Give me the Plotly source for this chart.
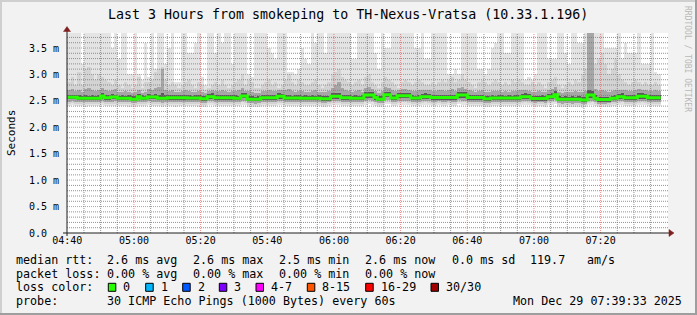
import plotly.graph_objects as go
import pandas as pd
import numpy as np

# ---------------- data (ms), one value per minute from 04:40 ----------------
start_time = "2025-12-29 04:40:00"

median_ms = [
    2.57, 2.57, 2.57, 2.55, 2.55, 2.55, 2.55, 2.55, 2.55, 2.55,
    2.59, 2.56, 2.56, 2.575, 2.575, 2.55, 2.55, 2.55, 2.55, 2.53,
    2.53, 2.58, 2.55, 2.55, 2.575, 2.575, 2.575, 2.55, 2.55, 2.55,
    2.56, 2.56, 2.56, 2.56, 2.56, 2.56, 2.555, 2.555, 2.555, 2.555,
    2.54, 2.54, 2.58, 2.58, 2.56, 2.56, 2.56, 2.56, 2.56, 2.56,
    2.55, 2.55, 2.59, 2.59, 2.53, 2.53, 2.53, 2.53, 2.56, 2.56,
    2.56, 2.56, 2.56, 2.585, 2.585, 2.555, 2.555, 2.555, 2.555, 2.555,
    2.55, 2.55, 2.55, 2.55, 2.55, 2.55, 2.54, 2.54, 2.54, 2.585,
    2.585, 2.585, 2.56, 2.56, 2.56, 2.55, 2.55, 2.55, 2.55, 2.61,
    2.61, 2.61, 2.565, 2.53, 2.53, 2.615, 2.615, 2.555, 2.555, 2.595,
    2.595, 2.595, 2.595, 2.555, 2.555, 2.555, 2.58, 2.58, 2.58, 2.565,
    2.565, 2.565, 2.565, 2.565, 2.565, 2.565, 2.565, 2.61, 2.61, 2.61,
    2.565, 2.565, 2.565, 2.565, 2.565, 2.54, 2.54, 2.555, 2.555, 2.555,
    2.555, 2.555, 2.555, 2.555, 2.555, 2.555, 2.58, 2.58, 2.58, 2.545,
    2.545, 2.545, 2.545, 2.545, 2.58, 2.58, 2.615, 2.53, 2.53, 2.53,
    2.53, 2.53, 2.53, 2.53, 2.515, 2.515, 2.61, 2.61, 2.55, 2.525,
    2.525, 2.525, 2.525, 2.55, 2.55, 2.58, 2.58, 2.56, 2.56, 2.56,
    2.56, 2.585, 2.585, 2.585, 2.56, 2.56, 2.56, 2.56,
]

max_ms = [
    3.8, 3.8, 3.8, 3.8, 3.2, 3.8, 3.8, 3.8, 3.8, 3.8,
    3.8, 3.8, 3.8, 3.5, 3.8, 3.3, 3.8, 3.8, 3.0, 3.0,
    3.8, 3.0, 2.9, 3.6, 2.95, 3.8, 3.1, 3.8, 3.8, 3.2,
    3.5, 3.8, 2.85, 2.85, 3.8, 3.8, 3.4, 3.4, 3.6, 3.8,
    2.95, 2.8, 3.8, 3.8, 3.4, 3.8, 3.6, 3.8, 3.8, 3.2,
    3.8, 3.8, 3.8, 3.8, 3.0, 2.95, 3.8, 3.8, 3.8, 3.8,
    3.5, 3.4, 3.3, 3.8, 3.8, 3.8, 3.05, 3.05, 3.0, 3.1,
    3.5, 3.3, 3.2, 3.8, 3.6, 3.8, 3.8, 3.4, 3.8, 3.8,
    3.8, 3.8, 3.8, 3.8, 3.8, 3.3, 3.3, 3.8, 3.8, 3.8,
    3.8, 3.8, 3.4, 3.1, 3.8, 3.5, 3.5, 3.8, 3.8, 3.8,
    3.8, 3.8, 3.8, 3.8, 3.5, 3.5, 3.8, 3.3, 3.3, 3.8,
    3.8, 3.8, 3.8, 3.8, 3.0, 3.0, 3.1, 3.0, 3.8, 3.8,
    3.8, 3.8, 3.8, 3.1, 3.1, 3.0, 3.1, 3.5, 3.6, 3.8,
    3.8, 3.4, 3.4, 3.8, 3.8, 3.8, 3.8, 2.9, 2.95, 2.9,
    3.0, 3.8, 3.8, 3.8, 3.3, 3.3, 3.3, 3.8, 3.8, 3.4,
    3.2, 3.8, 3.8, 3.6, 3.6, 3.8, 3.8, 3.8, 3.8, 3.8,
    3.8, 3.5, 3.5, 3.5, 3.5, 3.8, 3.3, 3.6, 3.4, 3.4,
    3.4, 3.8, 3.2, 3.2, 3.2, 3.8, 3.05, 3.0,
]

min_ms = [
    2.41, 2.42, 2.40, 2.40, 2.41, 2.39, 2.40, 2.41, 2.40, 2.40,
    2.42, 2.41, 2.40, 2.41, 2.41, 2.40, 2.41, 2.40, 2.39, 2.38,
    2.39, 2.41, 2.40, 2.41, 2.42, 2.40, 2.41, 2.40, 2.39, 2.40,
    2.41, 2.40, 2.39, 2.41, 2.40, 2.41, 2.40, 2.41, 2.40, 2.39,
    2.38, 2.39, 2.42, 2.42, 2.41, 2.40, 2.40, 2.41, 2.41, 2.40,
    2.40, 2.41, 2.43, 2.42, 2.39, 2.38, 2.38, 2.39, 2.41, 2.41,
    2.41, 2.40, 2.41, 2.42, 2.42, 2.41, 2.40, 2.41, 2.40, 2.41,
    2.40, 2.41, 2.40, 2.40, 2.41, 2.40, 2.39, 2.38, 2.40, 2.42,
    2.42, 2.42, 2.41, 2.41, 2.40, 2.40, 2.41, 2.40, 2.40, 2.43,
    2.44, 2.43, 2.41, 2.39, 2.39, 2.44, 2.44, 2.41, 2.40, 2.42,
    2.43, 2.43, 2.42, 2.41, 2.40, 2.41, 2.42, 2.43, 2.42, 2.41,
    2.41, 2.42, 2.41, 2.41, 2.42, 2.41, 2.41, 2.44, 2.43, 2.43,
    2.41, 2.41, 2.40, 2.41, 2.41, 2.39, 2.39, 2.40, 2.41, 2.40,
    2.40, 2.41, 2.40, 2.40, 2.41, 2.40, 2.42, 2.43, 2.42, 2.40,
    2.39, 2.40, 2.40, 2.39, 2.42, 2.43, 2.44, 2.39, 2.38, 2.39,
    2.39, 2.38, 2.39, 2.39, 2.37, 2.38, 2.42, 2.43, 2.40, 2.38,
    2.38, 2.38, 2.39, 2.40, 2.40, 2.42, 2.43, 2.41, 2.41, 2.41,
    2.41, 2.42, 2.43, 2.42, 2.41, 2.41, 2.41, 2.40,
]

# second-lightest smoke layer (2nd fastest .. 2nd slowest ping)
smoke2_hi = [
    2.85, 2.95, 2.80, 3.05, 2.80, 3.10, 3.15, 3.00, 2.90, 3.00,
    2.95, 2.90, 2.85, 2.80, 2.90, 2.80, 2.75, 2.85, 2.80, 2.75,
    2.80, 2.95, 2.75, 2.85, 2.85, 2.90, 3.05, 3.10, 3.15, 2.90,
    2.80, 2.85, 2.80, 2.75, 2.80, 2.85, 2.90, 2.80, 2.75, 2.85,
    2.80, 2.70, 2.75, 2.80, 2.85, 2.80, 2.90, 2.80, 2.75, 2.80,
    2.85, 2.90, 3.00, 2.80, 2.90, 2.85, 2.75, 2.75, 2.80, 2.85,
    2.90, 2.80, 2.85, 2.75, 2.80, 2.90, 3.00, 2.85, 2.80, 2.90,
    2.85, 2.80, 2.80, 2.85, 2.90, 2.80, 2.75, 2.80, 2.85, 3.00,
    3.05, 3.10, 2.95, 2.90, 2.85, 2.80, 2.85, 2.90, 2.80, 2.95,
    3.00, 2.85, 2.80, 2.75, 2.85, 2.95, 2.90, 2.85, 2.80, 2.75,
    2.85, 2.90, 2.85, 2.80, 2.85, 2.90, 2.85, 2.80, 2.80, 2.85,
    2.80, 2.85, 2.90, 2.85, 2.90, 2.95, 2.85, 2.90, 3.00, 2.90,
    2.85, 2.80, 2.75, 2.85, 2.90, 2.85, 2.80, 2.85, 2.90, 2.85,
    2.80, 2.85, 2.80, 2.90, 2.85, 2.90, 2.85, 2.80, 2.80, 2.85,
    2.80, 2.85, 2.80, 2.75, 2.85, 2.90, 2.95, 2.80, 2.75, 2.80,
    2.85, 2.80, 2.90, 2.85, 3.00, 3.10, 3.78, 3.78, 3.20, 3.30,
    3.40, 3.20, 3.00, 3.10, 3.30, 3.00, 2.90, 2.85, 2.80, 2.85,
    2.90, 2.85, 2.80, 2.85, 2.80, 2.80, 2.85, 2.80,
]
smoke2_lo = [
    2.45, 2.46, 2.45, 2.44, 2.45, 2.44, 2.45, 2.45, 2.44, 2.45,
    2.46, 2.45, 2.44, 2.45, 2.45, 2.44, 2.45, 2.44, 2.44, 2.43,
    2.43, 2.45, 2.44, 2.45, 2.46, 2.45, 2.45, 2.44, 2.43, 2.44,
    2.45, 2.44, 2.44, 2.45, 2.44, 2.45, 2.44, 2.45, 2.44, 2.44,
    2.43, 2.43, 2.46, 2.46, 2.45, 2.44, 2.44, 2.45, 2.45, 2.44,
    2.44, 2.45, 2.47, 2.46, 2.43, 2.43, 2.42, 2.43, 2.45, 2.45,
    2.45, 2.44, 2.45, 2.46, 2.46, 2.45, 2.44, 2.45, 2.44, 2.45,
    2.44, 2.45, 2.44, 2.44, 2.45, 2.44, 2.43, 2.43, 2.44, 2.46,
    2.46, 2.46, 2.45, 2.45, 2.44, 2.44, 2.45, 2.44, 2.44, 2.47,
    2.48, 2.47, 2.45, 2.43, 2.43, 2.48, 2.48, 2.45, 2.44, 2.46,
    2.47, 2.47, 2.46, 2.45, 2.44, 2.45, 2.46, 2.47, 2.46, 2.45,
    2.45, 2.46, 2.45, 2.45, 2.46, 2.45, 2.45, 2.48, 2.47, 2.47,
    2.45, 2.45, 2.44, 2.45, 2.45, 2.43, 2.43, 2.44, 2.45, 2.44,
    2.44, 2.45, 2.44, 2.44, 2.45, 2.44, 2.46, 2.47, 2.46, 2.44,
    2.43, 2.44, 2.44, 2.43, 2.46, 2.47, 2.48, 2.43, 2.42, 2.43,
    2.43, 2.42, 2.43, 2.43, 2.41, 2.42, 2.46, 2.47, 2.44, 2.42,
    2.42, 2.42, 2.43, 2.44, 2.44, 2.46, 2.47, 2.45, 2.45, 2.45,
    2.45, 2.46, 2.47, 2.46, 2.45, 2.45, 2.45, 2.44,
]

# middle smoke layer
smoke3_hi = [
    2.70, 2.72, 2.68, 2.70, 2.67, 2.72, 2.74, 2.70, 2.68, 2.71,
    2.74, 2.70, 2.68, 2.70, 2.72, 2.67, 2.66, 2.68, 2.67, 2.65,
    2.66, 2.70, 2.65, 2.67, 2.72, 2.70, 2.74, 2.76, 3.10, 2.70,
    2.68, 2.70, 2.67, 2.66, 2.68, 2.70, 2.69, 2.67, 2.66, 2.68,
    2.66, 2.64, 2.68, 2.70, 2.69, 2.68, 2.70, 2.68, 2.66, 2.68,
    2.69, 2.70, 2.74, 2.68, 2.68, 2.67, 2.65, 2.65, 2.68, 2.69,
    2.70, 2.68, 2.69, 2.70, 2.70, 2.70, 2.72, 2.68, 2.67, 2.69,
    2.68, 2.67, 2.67, 2.68, 2.70, 2.67, 2.66, 2.66, 2.68, 2.74,
    2.80, 2.85, 2.74, 2.70, 2.69, 2.67, 2.68, 2.70, 2.67, 2.74,
    2.76, 2.72, 2.68, 2.65, 2.68, 2.76, 2.74, 2.70, 2.68, 2.70,
    2.72, 2.72, 2.71, 2.68, 2.68, 2.70, 2.70, 2.71, 2.70, 2.69,
    2.68, 2.70, 2.71, 2.69, 2.70, 2.72, 2.69, 2.74, 2.76, 2.72,
    2.70, 2.68, 2.66, 2.69, 2.70, 2.67, 2.66, 2.68, 2.69, 2.68,
    2.67, 2.68, 2.67, 2.69, 2.68, 2.70, 2.70, 2.71, 2.69, 2.67,
    2.67, 2.68, 2.66, 2.66, 2.70, 2.72, 2.76, 2.66, 2.65, 2.66,
    2.67, 2.66, 2.68, 2.67, 2.66, 2.68, 3.78, 3.78, 2.72, 2.68,
    2.70, 2.68, 2.67, 2.69, 2.70, 2.70, 2.71, 2.70, 2.68, 2.69,
    2.70, 2.72, 2.71, 2.70, 2.68, 2.69, 2.70, 2.68,
]
smoke3_lo = [
    2.48, 2.49, 2.48, 2.47, 2.48, 2.47, 2.48, 2.48, 2.47, 2.48,
    2.49, 2.48, 2.47, 2.48, 2.49, 2.47, 2.48, 2.47, 2.48, 2.46,
    2.46, 2.48, 2.47, 2.48, 2.49, 2.48, 2.48, 2.47, 2.46, 2.47,
    2.48, 2.48, 2.47, 2.48, 2.47, 2.48, 2.47, 2.48, 2.48, 2.47,
    2.46, 2.46, 2.49, 2.49, 2.48, 2.48, 2.47, 2.48, 2.48, 2.47,
    2.47, 2.48, 2.50, 2.49, 2.46, 2.46, 2.45, 2.46, 2.48, 2.48,
    2.48, 2.47, 2.48, 2.49, 2.50, 2.48, 2.47, 2.48, 2.47, 2.48,
    2.47, 2.48, 2.47, 2.47, 2.48, 2.47, 2.46, 2.46, 2.47, 2.49,
    2.50, 2.49, 2.48, 2.48, 2.47, 2.47, 2.48, 2.47, 2.47, 2.50,
    2.51, 2.50, 2.48, 2.46, 2.46, 2.51, 2.51, 2.48, 2.47, 2.49,
    2.50, 2.50, 2.49, 2.48, 2.47, 2.48, 2.49, 2.50, 2.49, 2.48,
    2.48, 2.49, 2.48, 2.48, 2.49, 2.48, 2.48, 2.51, 2.50, 2.50,
    2.48, 2.48, 2.47, 2.48, 2.48, 2.46, 2.46, 2.47, 2.48, 2.47,
    2.47, 2.48, 2.47, 2.47, 2.48, 2.47, 2.49, 2.50, 2.49, 2.47,
    2.46, 2.47, 2.47, 2.46, 2.49, 2.50, 2.51, 2.46, 2.45, 2.46,
    2.46, 2.45, 2.46, 2.46, 2.44, 2.45, 2.49, 2.50, 2.47, 2.45,
    2.45, 2.45, 2.46, 2.47, 2.47, 2.49, 2.50, 2.48, 2.48, 2.48,
    2.48, 2.49, 2.50, 2.49, 2.48, 2.48, 2.48, 2.47,
]

# dark core of the smoke
smoke4_hi = [
    2.62, 2.62, 2.62, 2.61, 2.60, 2.61, 2.60, 2.61, 2.60, 2.61,
    2.64, 2.61, 2.62, 2.63, 2.62, 2.60, 2.61, 2.60, 2.61, 2.59,
    2.59, 2.63, 2.61, 2.60, 2.63, 2.62, 2.63, 2.61, 2.64, 2.61,
    2.61, 2.62, 2.61, 2.61, 2.62, 2.61, 2.61, 2.60, 2.61, 2.61,
    2.60, 2.60, 2.63, 2.64, 2.62, 2.61, 2.61, 2.62, 2.61, 2.61,
    2.61, 2.60, 2.64, 2.64, 2.59, 2.59, 2.58, 2.59, 2.62, 2.61,
    2.61, 2.62, 2.61, 2.64, 2.63, 2.61, 2.61, 2.60, 2.61, 2.61,
    2.60, 2.61, 2.60, 2.61, 2.60, 2.61, 2.60, 2.59, 2.60, 2.64,
    2.65, 2.64, 2.62, 2.61, 2.61, 2.60, 2.61, 2.60, 2.61, 2.66,
    2.67, 2.66, 2.62, 2.59, 2.59, 2.67, 2.66, 2.61, 2.61, 2.65,
    2.65, 2.64, 2.65, 2.61, 2.60, 2.61, 2.63, 2.64, 2.63, 2.62,
    2.61, 2.62, 2.62, 2.61, 2.62, 2.61, 2.62, 2.67, 2.66, 2.66,
    2.62, 2.61, 2.62, 2.62, 2.61, 2.59, 2.60, 2.61, 2.60, 2.61,
    2.61, 2.60, 2.61, 2.60, 2.61, 2.61, 2.63, 2.64, 2.63, 2.60,
    2.60, 2.60, 2.61, 2.60, 2.63, 2.64, 2.68, 2.59, 2.58, 2.59,
    2.58, 2.59, 2.58, 2.59, 2.57, 2.58, 2.70, 2.68, 2.61, 2.58,
    2.58, 2.58, 2.58, 2.60, 2.61, 2.63, 2.64, 2.62, 2.61, 2.61,
    2.62, 2.64, 2.64, 2.63, 2.61, 2.62, 2.61, 2.61,
]
smoke4_lo = [
    2.53, 2.53, 2.53, 2.51, 2.51, 2.51, 2.51, 2.52, 2.51, 2.51,
    2.54, 2.52, 2.52, 2.53, 2.53, 2.51, 2.51, 2.51, 2.51, 2.49,
    2.49, 2.53, 2.51, 2.51, 2.53, 2.53, 2.53, 2.51, 2.51, 2.51,
    2.52, 2.52, 2.52, 2.52, 2.51, 2.52, 2.51, 2.51, 2.52, 2.51,
    2.50, 2.50, 2.54, 2.54, 2.52, 2.52, 2.52, 2.51, 2.52, 2.52,
    2.51, 2.51, 2.55, 2.55, 2.49, 2.49, 2.49, 2.49, 2.52, 2.52,
    2.52, 2.52, 2.52, 2.54, 2.54, 2.51, 2.51, 2.51, 2.51, 2.51,
    2.51, 2.51, 2.51, 2.51, 2.51, 2.51, 2.50, 2.50, 2.50, 2.54,
    2.54, 2.54, 2.52, 2.52, 2.52, 2.51, 2.51, 2.51, 2.51, 2.56,
    2.56, 2.56, 2.52, 2.49, 2.49, 2.57, 2.57, 2.51, 2.51, 2.55,
    2.55, 2.55, 2.55, 2.51, 2.51, 2.51, 2.54, 2.54, 2.54, 2.52,
    2.52, 2.52, 2.52, 2.52, 2.52, 2.52, 2.52, 2.56, 2.56, 2.56,
    2.52, 2.52, 2.52, 2.52, 2.52, 2.50, 2.50, 2.51, 2.51, 2.51,
    2.51, 2.51, 2.51, 2.51, 2.51, 2.51, 2.54, 2.54, 2.54, 2.50,
    2.50, 2.50, 2.50, 2.50, 2.54, 2.54, 2.57, 2.49, 2.49, 2.49,
    2.49, 2.49, 2.49, 2.49, 2.47, 2.47, 2.56, 2.56, 2.51, 2.48,
    2.48, 2.48, 2.48, 2.51, 2.51, 2.54, 2.54, 2.52, 2.52, 2.52,
    2.52, 2.54, 2.54, 2.54, 2.52, 2.52, 2.52, 2.52,
]

y_tick_vals = [0.0, 0.5, 1.0, 1.5, 2.0, 2.5, 3.0, 3.5]
y_tick_text = ["0.0", "0.5 m", "1.0 m", "1.5 m", "2.0 m", "2.5 m", "3.0 m", "3.5 m"]

loss_labels = ["0", "1", "2", "3", "4-7", "8-15", "16-29", "30/30"]
loss_colors = ["#26ff00", "#00b8ff", "#0059ff", "#7e00ff", "#ff00ff", "#ff5500", "#ff0000", "#a10000"]

rtt_row = ["2.6 ms avg", "2.6 ms max", "2.5 ms min", "2.6 ms now", "0.0 ms sd", "119.7", "am/s"]
loss_row = ["0.00 % avg", "0.00 % max", "0.00 % min", "0.00 % now"]

# ---------------- layout geometry ----------------
W, H = 697, 315
ML, MR, MT, MB = 67, 29, 33, 82
PW, PH = W - ML - MR, H - MT - MB
FONT = "DejaVu Sans Mono"


def fx(px):
    return (px - ML) / PW


def fy(py):
    return (H - MB - py) / PH


N = len(median_ms)
times = pd.date_range(start_time, periods=N, freq="min")
t_str = times.strftime("%Y-%m-%d %H:%M:%S").tolist()
end_str = (times[-1] + pd.Timedelta(minutes=1)).strftime("%Y-%m-%d %H:%M:%S")
x_range = ["2025-12-29 04:39:55", "2025-12-29 07:40:13"]
y_max = PH / 52.857

fig = go.Figure()

bands = [
    (min_ms, max_ms, "#e4e4e4"),
    (smoke2_lo, smoke2_hi, "#d3d3d3"),
    (smoke3_lo, smoke3_hi, "#a6a6a6"),
    (smoke4_lo, smoke4_hi, "#5a5a5a"),
]
for lo, hi, col in bands:
    fig.add_trace(go.Bar(
        x=t_str, y=[h - l for l, h in zip(lo, hi)], base=lo,
        width=60000, offset=0,
        marker=dict(color=col, line=dict(width=0)),
        hoverinfo="skip", showlegend=False,
    ))

# grid drawn over the smoke (as rrdtool does)
t0 = pd.Timestamp(start_time)
minor_t = [t0 + pd.Timedelta(minutes=m) for m in range(5, 180, 5) if m % 20 != 0]
major_t = [t0 + pd.Timedelta(minutes=m) for m in range(20, 180, 20)]
minor_y = [round(v, 1) for v in np.arange(0.1, 3.75, 0.1) if round(v * 10) % 5 != 0]
major_y = y_tick_vals[1:]


def hlines(vals):
    xs, ys = [], []
    for v in vals:
        xs += [x_range[0], x_range[1], None]
        ys += [v, v, None]
    return xs, ys


def vlines(vals):
    xs, ys = [], []
    for v in vals:
        s = v.strftime("%Y-%m-%d %H:%M:%S")
        xs += [s, s, None]
        ys += [0, y_max, None]
    return xs, ys


for fn, vals, col in [
    (hlines, minor_y, "rgba(120,120,120,0.8)"),
    (vlines, minor_t, "rgba(120,120,120,0.8)"),
    (hlines, major_y, "rgba(222,79,79,0.65)"),
    (vlines, major_t, "rgba(222,79,79,0.65)"),
]:
    xs, ys = fn(vals)
    fig.add_trace(go.Scatter(
        x=xs, y=ys, mode="lines",
        line=dict(color=col, width=1, dash="1px,1px"),
        hoverinfo="skip", showlegend=False,
    ))

# median line
fig.add_trace(go.Scatter(
    x=t_str + [end_str], y=median_ms + [median_ms[-1]],
    mode="lines", line=dict(color="#26ff00", width=3, shape="hv"),
    hoverinfo="skip", showlegend=False,
))

shapes = []
# frame
shapes.append(dict(type="rect", xref="paper", yref="paper", x0=fx(0), x1=fx(W), y0=fy(0), y1=fy(2),
                   fillcolor="#cfcfcf", line=dict(width=0), layer="above"))
shapes.append(dict(type="rect", xref="paper", yref="paper", x0=fx(0), x1=fx(2), y0=fy(0), y1=fy(H),
                   fillcolor="#cfcfcf", line=dict(width=0), layer="above"))
shapes.append(dict(type="rect", xref="paper", yref="paper", x0=fx(W - 2), x1=fx(W), y0=fy(0), y1=fy(H),
                   fillcolor="#9e9e9e", line=dict(width=0), layer="above"))
shapes.append(dict(type="rect", xref="paper", yref="paper", x0=fx(0), x1=fx(W), y0=fy(H - 2), y1=fy(H),
                   fillcolor="#9e9e9e", line=dict(width=0), layer="above"))
# axes
shapes.append(dict(type="line", xref="paper", yref="paper", x0=fx(63), x1=fx(670), y0=fy(233), y1=fy(233),
                   line=dict(color="#1f1f1f", width=1), layer="above"))
shapes.append(dict(type="line", xref="paper", yref="paper", x0=fx(67), x1=fx(67), y0=fy(236), y1=fy(30),
                   line=dict(color="#1f1f1f", width=1), layer="above"))
# arrows
shapes.append(dict(type="path", xref="paper", yref="paper",
                   path=f"M {fx(669)} {fy(229.5)} L {fx(674)} {fy(233)} L {fx(669)} {fy(236.5)} Z",
                   fillcolor="#7f1f1f", line=dict(color="#7f1f1f", width=0.5), layer="above"))
shapes.append(dict(type="path", xref="paper", yref="paper",
                   path=f"M {fx(63.5)} {fy(31.5)} L {fx(67)} {fy(26.5)} L {fx(70.5)} {fy(31.5)} Z",
                   fillcolor="#7f1f1f", line=dict(color="#7f1f1f", width=0.5), layer="above"))

annotations = []


def txt(x, y, s, size=11.7, anchor="left", color="#000000", angle=0, yref="paper", xref="paper"):
    annotations.append(dict(
        x=fx(x) if xref == "paper" else x, y=fy(y) if yref == "paper" else y,
        xref=xref, yref=yref, text=s, showarrow=False,
        xanchor=anchor, yanchor="middle", textangle=angle,
        borderpad=0, borderwidth=0,
        font=dict(family=FONT, size=size, color=color),
    ))


txt(348, 14, "Last 3 Hours from smokeping to TH-Nexus-Vratsa (10.33.1.196)", size=13.3, anchor="center")
txt(688, 59, "RRDTOOL / TOBI OETIKER", size=8, anchor="center", color="#b8b8b8", angle=90)
txt(11, 133, "Seconds", size=11, anchor="center", angle=-90)

for v, s in zip(y_tick_vals, y_tick_text):
    annotations.append(dict(x=fx(29), y=v, xref="paper", yref="y", text=s, showarrow=False,
                            xanchor="left", yanchor="middle", borderpad=0, borderwidth=0,
                            font=dict(family=FONT, size=10, color="#000000")))

row_y = [260, 273.5, 287.3, 301]
col_x = [107, 193, 279, 365, 451.7, 530, 586.7]
txt(16, row_y[0], "median rtt:")
for x, s in zip(col_x, rtt_row):
    txt(x, row_y[0], s)
txt(16, row_y[1], "packet loss:")
for x, s in zip(col_x, loss_row):
    txt(x, row_y[1], s)
txt(16, row_y[2], "loss color:")
box_x = [108.3, 145.7, 182.7, 219.3, 256, 307.3, 365.7, 431]
for bx, lab, col in zip(box_x, loss_labels, loss_colors):
    shapes.append(dict(type="rect", xref="paper", yref="paper",
                       x0=fx(bx), x1=fx(bx + 7.5), y0=fy(row_y[2] + 4), y1=fy(row_y[2] - 4),
                       fillcolor=col, line=dict(color="#000000", width=1), layer="above"))
    txt(bx + 15, row_y[2], lab)
txt(16, row_y[3], "probe:")
txt(107, row_y[3], "30 ICMP Echo Pings (1000 Bytes) every 60s")
txt(513, row_y[3], "Mon Dec 29 07:39:33 2025")

fig.update_layout(
    width=W, height=H,
    margin=dict(l=ML, r=MR, t=MT, b=MB, pad=0),
    paper_bgcolor="#f2f2f2", plot_bgcolor="#ffffff",
    barmode="overlay", bargap=0,
    showlegend=False,
    shapes=shapes, annotations=annotations,
    xaxis=dict(
        type="date", range=x_range, showgrid=False, zeroline=False, showline=False,
        tickmode="array",
        tickvals=[t.strftime("%Y-%m-%d %H:%M:%S") for t in [t0] + major_t],
        ticktext=[t.strftime("%H:%M") for t in [t0] + major_t],
        ticks="", tickfont=dict(family=FONT, size=10, color="#000000"),
    ),
    yaxis=dict(
        range=[0, y_max], showgrid=False, zeroline=False, showline=False,
        showticklabels=False, ticks="",
    ),
    hovermode=False,
)

fig.write_html("out.html")
